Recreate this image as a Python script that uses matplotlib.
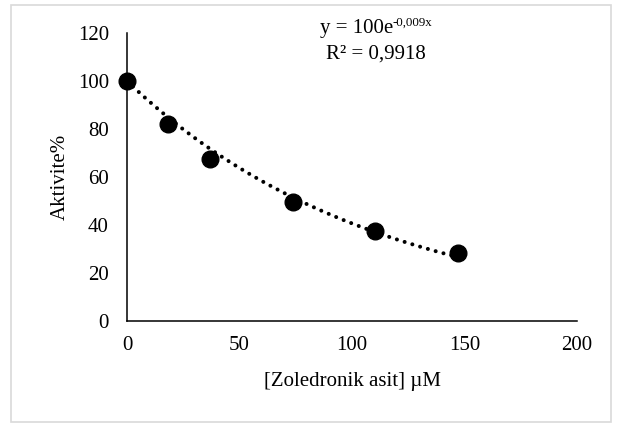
import numpy as np
import matplotlib
matplotlib.use("Agg")
import matplotlib.pyplot as plt
from matplotlib.patches import Rectangle

plt.rcParams['font.family'] = ['Liberation Serif', 'DejaVu Serif']

# Data
concentration = [0, 18.4, 36.8, 73.6, 110.4, 147.2]
activity = [100, 82.2, 67.5, 49.5, 37.3, 28.2]

# Exponential trendline y = a * exp(b x)
trend_a = 100
trend_b = -0.009
eq_base = 'y = 100e'
eq_exp = '-0,009x'
r2_text = 'R² = 0,9918'

x_ticks = [0, 50, 100, 150, 200]
y_ticks = [0, 20, 40, 60, 80, 100, 120]

FS = 15

fig = plt.figure(figsize=(6.22, 4.26), dpi=100)
ax = fig.add_axes([127/622, 1-321/426, 450/622, 288/426])

xt = np.linspace(concentration[0], concentration[-1], 200)
ax.plot(xt, trend_a*np.exp(trend_b*xt), color='black', linestyle=(0, (0.01, 2.0)),
        linewidth=2.9, dash_capstyle='round', zorder=2)
ax.plot(concentration, activity, 'o', color='black', markersize=12, zorder=3,
        clip_on=False)

ax.set_xlim(0, 200)
ax.set_ylim(0, 120)
ax.set_xticks(x_ticks)
ax.set_yticks(y_ticks)
ax.tick_params(length=0, labelsize=FS)
ax.tick_params(axis='x', pad=11)
ax.tick_params(axis='y', pad=13)
for s in ['top', 'right']:
    ax.spines[s].set_visible(False)
for s in ['left', 'bottom']:
    ax.spines[s].set_linewidth(1.1)

ax.set_xlabel('[Zoledronik asit] µM', fontsize=FS, labelpad=12)
ax.set_ylabel('Aktivite%', fontsize=FS, labelpad=6)

# Equation text built from base + superscript
renderer = fig.canvas.get_renderer()
t_base = fig.text(0, 1-33/426, eq_base, ha='left', va='baseline', fontsize=FS)
t_exp = fig.text(0, 1-33/426, eq_exp, ha='left', va='baseline', fontsize=FS*0.62)
wb = t_base.get_window_extent(renderer).width
we = t_exp.get_window_extent(renderer).width
total = wb + we
x0 = 376 - total/2
t_base.set_x(x0/622)
t_exp.set_x((x0 + wb)/622)
t_exp.set_y(1-26/426)
fig.text(376/622, 1-54/426, r2_text, ha='center', va='center', fontsize=FS)

fig.patches.append(Rectangle((11/622, 1-422/426), 600/622, 417/426,
                             transform=fig.transFigure, fill=False,
                             edgecolor='#d9d9d9', linewidth=1.2))

fig.savefig('out.png', dpi=100)
